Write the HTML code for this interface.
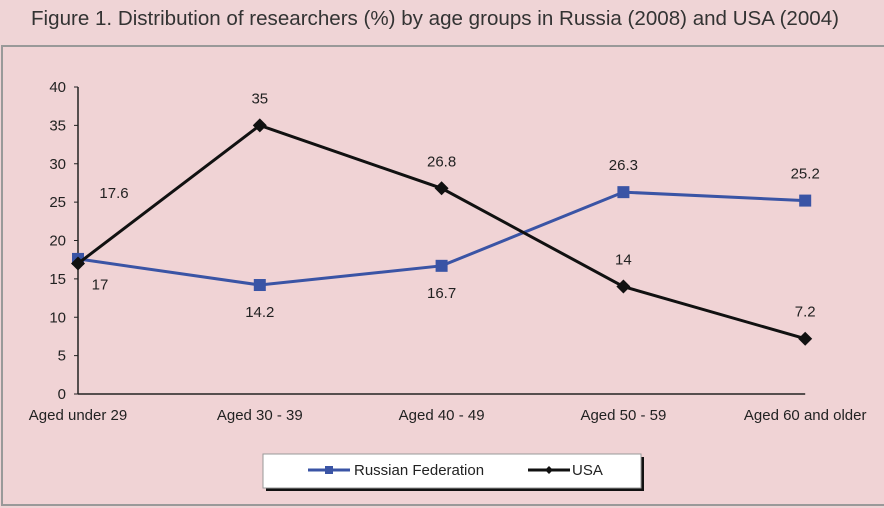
<!DOCTYPE html>
<html><head><meta charset="utf-8"><style>
body{margin:0;background:#efd4d6;}
svg{display:block;font-family:"Liberation Sans",sans-serif;}
</style></head><body>
<svg id="c" width="884" height="508" xmlns="http://www.w3.org/2000/svg">
<rect x="0" y="0" width="884" height="508" fill="#efd4d6"/>
<text x="435" y="25" text-anchor="middle" font-size="20" fill="#333" textLength="808" lengthAdjust="spacingAndGlyphs">Figure 1. Distribution of researchers (%) by age groups in Russia (2008) and USA (2004)</text>
<rect x="2" y="46" width="890" height="459" fill="#f0d3d5" stroke="#999" stroke-width="2"/>
<g id="axes"></g><g id="marks"></g>
<g>
<rect x="266" y="457" width="378" height="34" fill="#111"/>
<rect x="263" y="454" width="378" height="34" fill="#fff" stroke="#999"/>
<line x1="308" y1="470" x2="350" y2="470" stroke="#3a54a5" stroke-width="3"/>
<rect x="325" y="466" width="8" height="8" fill="#3a54a5"/>
<text x="354" y="475" font-size="15" fill="#222">Russian Federation</text>
<line x1="528" y1="470" x2="570" y2="470" stroke="#111" stroke-width="3"/>
<polygon points="549,466 553,470 549,474 545,470" fill="#111"/>
<text x="572" y="475" font-size="15" fill="#222">USA</text>
</g>
</svg>
<script>
const categories=["Aged under 29","Aged 30 - 39","Aged 40 - 49","Aged 50 - 59","Aged 60 and older"];
const russia=[17.6,14.2,16.7,26.3,25.2];
const usa=[17,35,26.8,14,7.2];
const yTicks=[0,5,10,15,20,25,30,35,40];
const ns="http://www.w3.org/2000/svg";
const x0=78,dx=181.8,yb=394,yt=87;
const X=i=>x0+i*dx, Y=v=>yb-(v/40)*(yb-yt);
const ax=document.getElementById('axes'),mk=document.getElementById('marks');
function el(t,a,p){const e=document.createElementNS(ns,t);for(const k in a)e.setAttribute(k,a[k]);p.appendChild(e);return e;}
let a=el('line',{x1:x0,y1:yt,x2:x0,y2:yb,stroke:'#222','stroke-width':1.5},ax);


a=el('line',{x1:x0,y1:yb,x2:X(4),y2:yb,stroke:'#222','stroke-width':1.5},ax);


yTicks.forEach(v=>{el('line',{x1:x0-4,y1:Y(v),x2:x0,y2:Y(v),stroke:'#222'},ax);
const t=el('text',{x:x0-12,y:Y(v)+5,'text-anchor':'end','font-size':15,fill:'#222'},ax);t.textContent=v;

});
categories.forEach((c,i)=>{const t=el('text',{x:X(i),y:yb+26,'text-anchor':'middle','font-size':15,fill:'#222'},ax);t.textContent=c;

});
function series(d,col,name,marker,lab){
const p=el('polyline',{points:d.map((v,i)=>X(i)+','+Y(v)).join(' '),fill:'none',stroke:col,'stroke-width':3},mk);


d.forEach((v,i)=>{let m;
if(marker=='sq')m=el('rect',{x:X(i)-6,y:Y(v)-6,width:12,height:12,fill:col},mk);
else m=el('polygon',{points:`${X(i)},${Y(v)-7} ${X(i)+7},${Y(v)} ${X(i)},${Y(v)+7} ${X(i)-7},${Y(v)}`,fill:col},mk);


const o=lab[i];const t=el('text',{x:X(i)+o[0],y:Y(v)+o[1],'text-anchor':'middle','font-size':15,fill:'#222'},mk);t.textContent=v;

});}
series(russia,'#3a54a5','russia','sq',[[36,-61],[0,32],[0,32],[0,-22],[0,-22]]);
series(usa,'#111','usa','dia',[[22,26],[0,-22],[0,-22],[0,-22],[0,-22]]);
</script>
</body></html>
